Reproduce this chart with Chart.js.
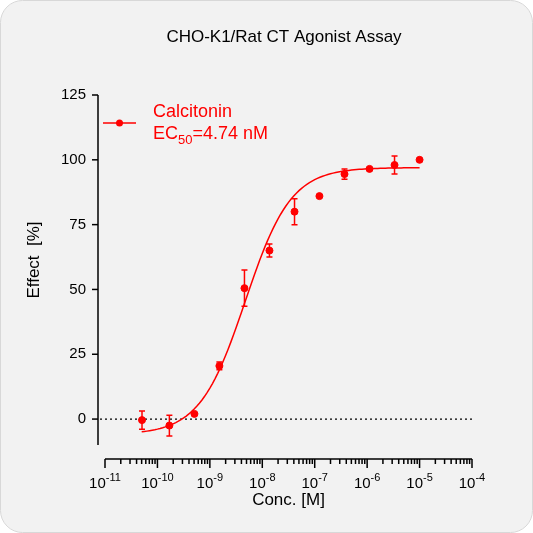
<!DOCTYPE html>
<html><head><meta charset="utf-8">
<script src="https://cdn.jsdelivr.net/npm/chart.js@4"></script>
<style>html,body{margin:0;padding:0;background:#fff}#w{width:533px;height:533px}</style>
</head><body><div id="w"><canvas id="c" width="533" height="533"></canvas></div>
<script>
const conc = [5.08e-11,1.69e-10,5.08e-10,1.52e-9,4.57e-9,1.37e-8,4.12e-8,1.23e-7,3.70e-7,1.11e-6,3.33e-6,1.0e-5];
const effect = [-0.4,-2.5,2,20.5,50.5,65,80,86,94.5,96.5,98,100];
const errs = [3.5,4,0,1.5,7,2.5,5,0,2,0,3.5,0];
const fitBottom = -6, fitTop = 97, fitEC50 = 4.74e-9, fitHill = 1;
const yTicks = [0,25,50,75,100,125];
const xDecades = [-11,-10,-9,-8,-7,-6,-5,-4];
const curveX = [];
for (let e=-10.3; e<=-5.0001; e+=0.05) curveX.push(Math.pow(10,e));
curveX.push(1e-5);
const curve = curveX.map(x=>({x, y: fitBottom+(fitTop-fitBottom)/(1+Math.pow(fitEC50/x,fitHill))}));
const RED='#ff0000', F='Arial, "Liberation Sans", sans-serif';
const custom = {
  id:'custom',
  beforeDraw(ch){
    const c=ch.ctx; c.save(); c.fillStyle='#f2f2f2'; c.strokeStyle='#d8d8d8';
    c.beginPath(); c.roundRect(0.5,0.5,532,532,22); c.fill(); c.stroke(); c.restore();
  },
  beforeDatasetsDraw(ch){
    const c=ch.ctx, xs=ch.scales.x, ys=ch.scales.y, a=ch.chartArea;
    c.save();
    c.strokeStyle='#000'; c.lineWidth=1.2; c.setLineDash([2,3]);
    const y0=ys.getPixelForValue(0);
    c.beginPath(); c.moveTo(a.left-5,y0); c.lineTo(a.right,y0); c.stroke();
    c.setLineDash([]); c.lineWidth=1.5; c.fillStyle='#000';
    const yx=a.left-7;
    c.beginPath(); c.moveTo(yx,a.top); c.lineTo(yx,a.bottom); c.stroke();
    c.font='15px '+F; c.textAlign='right'; c.textBaseline='middle';
    yTicks.forEach(v=>{const p=ys.getPixelForValue(v); c.beginPath(); c.moveTo(yx-6,p); c.lineTo(yx,p); c.stroke(); c.fillText(String(v),yx-12,p);});
    const xy=a.bottom+14;
    c.beginPath(); c.moveTo(a.left,xy); c.lineTo(a.right,xy); c.stroke();
    xDecades.forEach(d=>{
      for(let m=1;m<=9;m++){
        if(d===-4 && m>1) break;
        const p=xs.getPixelForValue(m*Math.pow(10,d));
        c.beginPath(); c.moveTo(p,xy); c.lineTo(p,xy+(m===1?9:5)); c.stroke();
      }
      const p=xs.getPixelForValue(Math.pow(10,d));
      c.font='15px '+F; const w1=c.measureText('10').width;
      c.font='11px '+F; const w2=c.measureText(String(d)).width;
      const s=p-(w1+w2)/2;
      c.textAlign='left'; c.textBaseline='alphabetic';
      c.font='15px '+F; c.fillText('10',s,488);
      c.font='11px '+F; c.fillText(String(d),s+w1,481);
    });
    c.textAlign='center'; c.font='17px '+F;
    c.fillText('Conc. [M]',(a.left+a.right)/2,505);
    c.fillText('CHO-K1/Rat CT Agonist Assay',284,42);
    c.save(); c.translate(39,(a.top+a.bottom)/2-10); c.rotate(-Math.PI/2); c.fillText('Effect  [%]',0,0); c.restore();
    c.restore();
  },
  afterDatasetsDraw(ch){
    const c=ch.ctx, xs=ch.scales.x, ys=ch.scales.y;
    c.save(); c.strokeStyle=RED; c.lineWidth=1.5;
    conc.forEach((x,i)=>{ if(!errs[i]) return;
      const px=xs.getPixelForValue(x), t=ys.getPixelForValue(effect[i]+errs[i]), b=ys.getPixelForValue(effect[i]-errs[i]);
      c.beginPath(); c.moveTo(px,t); c.lineTo(px,b); c.moveTo(px-3,t); c.lineTo(px+3,t); c.moveTo(px-3,b); c.lineTo(px+3,b); c.stroke();});
    c.beginPath(); c.moveTo(103,123); c.lineTo(136,123); c.stroke();
    c.fillStyle=RED; c.beginPath(); c.arc(119.5,123,3.5,0,7); c.fill();
    c.font='18px '+F; c.textBaseline='alphabetic';
    c.fillText('Calcitonin',153,117);
    c.fillText('EC',153,139); let w=c.measureText('EC').width;
    c.font='13px '+F; c.fillText('50',153+w,144); let w2=c.measureText('50').width;
    c.font='18px '+F; c.fillText('=4.74 nM',153+w+w2,139);
    c.restore();
  }
};
new Chart(document.getElementById('c'),{
  type:'scatter',
  data:{datasets:[
    {data:curve, showLine:true, borderColor:RED, borderWidth:1.5, pointRadius:0, tension:0},
    {data:conc.map((x,i)=>({x,y:effect[i]})), borderColor:RED, backgroundColor:RED, pointRadius:3.5, showLine:false}
  ]},
  options:{
    responsive:false, animation:false, devicePixelRatio:1,
    layout:{padding:{top:95,right:61,left:105,bottom:88}},
    plugins:{legend:{display:false},tooltip:{enabled:false},title:{display:false}},
    scales:{
      x:{type:'logarithmic',min:1e-11,max:1e-4,display:false},
      y:{min:-10,max:125,display:false}
    }
  },
  plugins:[custom]
});
</script></body></html>
